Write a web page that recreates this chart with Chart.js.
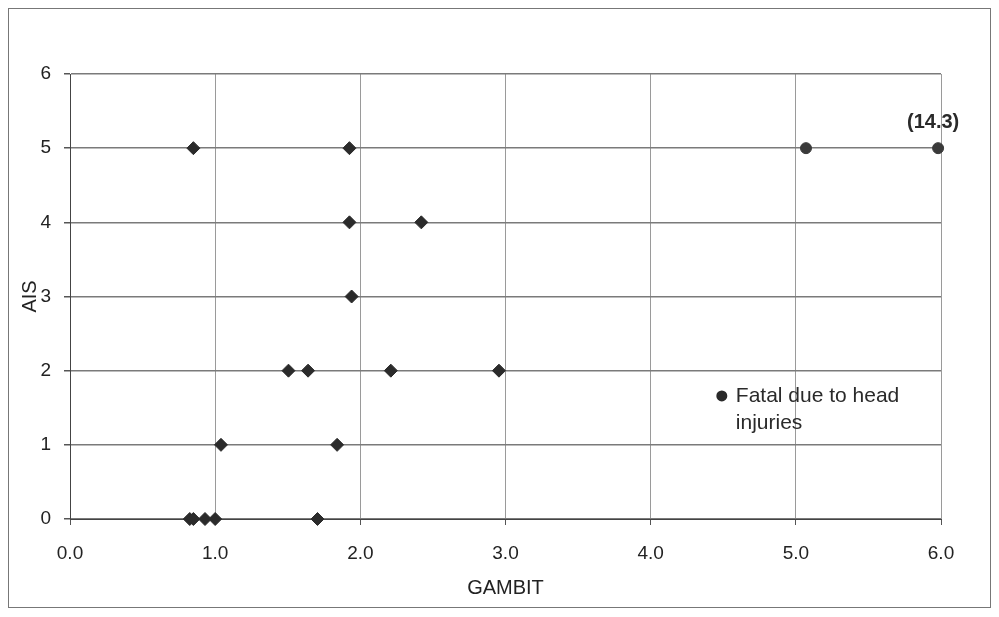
<!DOCTYPE html>
<html>
<head>
<meta charset="utf-8">
<script src="https://cdn.jsdelivr.net/npm/chart.js@4/dist/chart.umd.min.js"></script>
<style>
  html, body { margin: 0; padding: 0; background: #fff; }
  #wrap { width: 999px; height: 617px; }
</style>
</head>
<body>
<div id="wrap"><canvas id="aisChart"></canvas></div>
<script>
// GAMBIT vs AIS
const gambitValues = [0.85, 1.925, 1.925, 2.42, 1.94, 1.505, 1.64, 2.21, 2.955, 1.04, 1.84, 0.825, 0.85, 0.93, 1.0, 1.705];
const aisValues    = [5,    5,     4,     4,    3,    2,     2,    2,    2,     1,    1,    0,     0,    0,    0,   0];

const fatalGambit = [5.07, 5.98];
const fatalAis    = [5, 5];
const fatalLabels = ['', '(14.3)'];

const legendLines = ['Fatal due to head', 'injuries'];

const toPoints = (xs, ys) => xs.map((x, i) => ({ x: x, y: ys[i] }));

const textFont = '"Liberation Sans", Arial, sans-serif';

const frameAndNotes = {
  id: 'frameAndNotes',
  beforeDraw(chart) {
    const ctx = chart.ctx;
    ctx.save();
    ctx.fillStyle = '#fff';
    ctx.fillRect(0, 0, chart.width, chart.height);
    ctx.strokeStyle = '#777';
    ctx.lineWidth = 1;
    ctx.strokeRect(8.5, 8.5, 982, 599);
    ctx.restore();
  },
  afterDatasetsDraw(chart) {
    const ctx = chart.ctx;
    const xs = chart.scales.x, ys = chart.scales.y;
    ctx.save();
    ctx.fillStyle = '#2a2a2a';
    ctx.textBaseline = 'middle';
    ctx.textAlign = 'center';
    ctx.font = 'bold 20px ' + textFont;
    fatalLabels.forEach((lab, i) => {
      if (!lab) return;
      ctx.fillText(lab, xs.getPixelForValue(fatalGambit[i]) - 5, ys.getPixelForValue(fatalAis[i]) - 26);
    });
    // in-plot legend
    const lx = xs.getPixelForValue(4.49);
    const ly = ys.getPixelForValue(1.66);
    ctx.beginPath();
    ctx.arc(lx, ly, 5.5, 0, Math.PI * 2);
    ctx.fill();
    ctx.font = '21px ' + textFont;
    ctx.textAlign = 'left';
    ctx.fillText(legendLines[0], lx + 14, ly);
    ctx.fillText(legendLines[1], lx + 14, ly + 27);
    ctx.restore();
  }
};

new Chart(document.getElementById('aisChart'), {
  type: 'scatter',
  data: {
    datasets: [
      {
        label: 'Cases',
        data: toPoints(gambitValues, aisValues),
        pointStyle: 'rectRot',
        pointRadius: 6.5,
        pointHoverRadius: 6.5,
        backgroundColor: '#2b2b2b',
        borderColor: '#2b2b2b',
        borderWidth: 1,
        clip: false
      },
      {
        label: 'Fatal due to head injuries',
        data: toPoints(fatalGambit, fatalAis),
        pointStyle: 'circle',
        pointRadius: 5.5,
        pointHoverRadius: 5.5,
        backgroundColor: '#3a3a3a',
        borderColor: '#3a3a3a',
        borderWidth: 1,
        clip: false
      }
    ]
  },
  options: {
    responsive: true,
    maintainAspectRatio: false,
    animation: false,
    layout: { padding: { left: 12, right: 58, top: 74, bottom: 10 } },
    plugins: {
      legend: { display: false },
      tooltip: { enabled: false }
    },
    scales: {
      x: {
        type: 'linear',
        min: 0,
        max: 6,
        afterFit(scale) { scale.height = 88; },
        ticks: {
          stepSize: 1,
          color: '#222',
          font: { family: textFont, size: 19 },
          padding: 17,
          maxRotation: 0,
          callback: v => Number(v).toFixed(1)
        },
        grid: { color: '#9a9a9a', lineWidth: 1, tickLength: 6, tickColor: '#555' },
        border: { color: '#444', width: 1 },
        title: {
          display: true,
          text: 'GAMBIT',
          color: '#222',
          font: { family: textFont, size: 20 },
          padding: { top: 4, bottom: 7 }
        }
      },
      y: {
        type: 'linear',
        min: 0,
        max: 6,
        afterFit(scale) { scale.width = 58; },
        ticks: {
          stepSize: 1,
          color: '#222',
          font: { family: textFont, size: 19 },
          padding: 13
        },
        grid: { color: '#7a7a7a', lineWidth: 1.5, tickLength: 6, tickColor: '#555' },
        border: { color: '#444', width: 1 },
        title: {
          display: true,
          text: 'AIS',
          color: '#222',
          font: { family: textFont, size: 20 },
          padding: { top: 6, bottom: 4 }
        }
      }
    }
  },
  plugins: [frameAndNotes]
});
</script>
</body>
</html>
